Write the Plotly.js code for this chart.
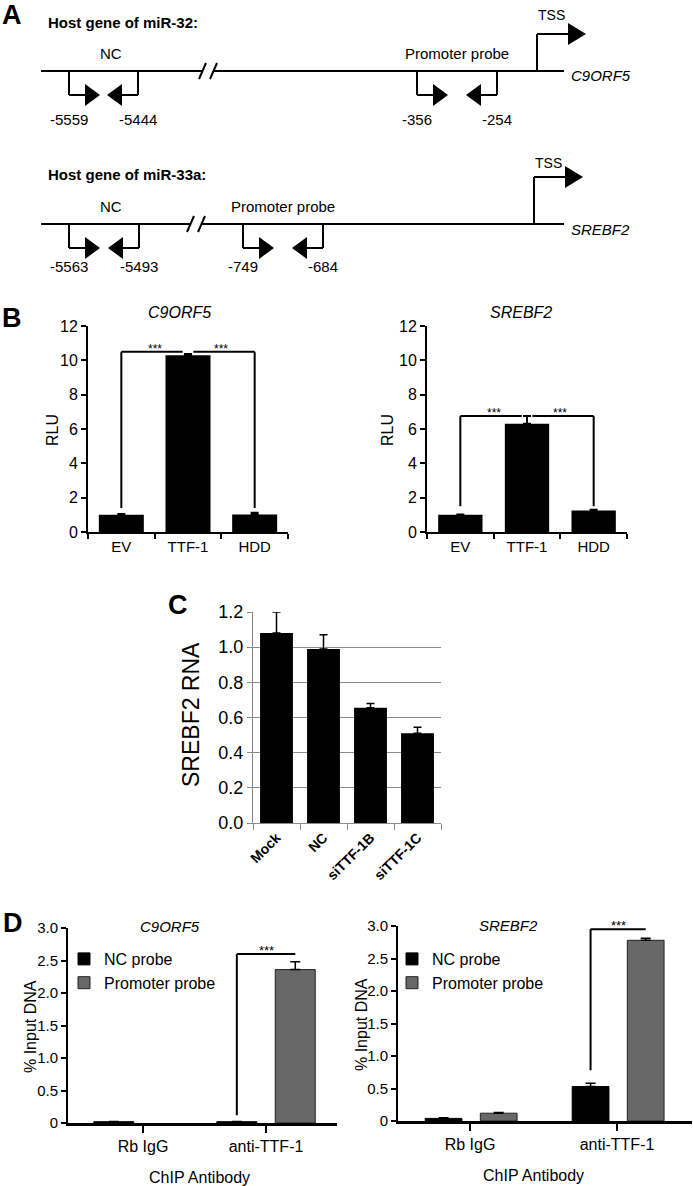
<!DOCTYPE html>
<html>
<head>
<meta charset="utf-8">
<script src="https://cdn.plot.ly/plotly-3.0.1.min.js"></script>
<style>html, body { margin: 0; padding: 0; background: #fff; }</style>
</head>
<body>
<div id="fig" style="width:693px;height:1186px"></div>
<script>
// A: promoter schematics
const hostLabels = ['Host gene of miR-32:', 'Host gene of miR-33a:'];
const geneNames = ['C9ORF5', 'SREBF2'];
const ncPrimerLabels = [['-5559', '-5444'], ['-5563', '-5493']];
const promPrimerLabels = [['-356', '-254'], ['-749', '-684']];

// B: luciferase reporter (RLU)
const rluGroups = ['EV', 'TTF-1', 'HDD'];
const rluC9orf5 = [1.0, 10.3, 1.02];
const rluC9orf5Err = [0.05, 0.07, 0.1];
const rluSrebf2 = [1.0, 6.3, 1.25];
const rluSrebf2Err = [0.02, 0.45, 0.05];
const rluBracketTop = [10.5, 6.75];
const rluBracketFoot = [1.4, 1.5];

// C: SREBF2 RNA after knock-down
const sirnaGroups = ['Mock', 'NC', 'siTTF-1B', 'siTTF-1C'];
const srebf2Rna = [1.08, 0.99, 0.655, 0.51];
const srebf2RnaErr = [0.12, 0.08, 0.025, 0.035];

// D: ChIP (% input DNA)
const chipGroups = ['Rb IgG', 'anti-TTF-1'];
const chipSeries = ['NC probe', 'Promoter probe'];
const chipC9orf5Nc = [0.02, 0.02];
const chipC9orf5NcErr = [0.005, 0.005];
const chipC9orf5Prom = [0.0, 2.36];
const chipC9orf5PromErr = [0, 0.12];
const chipSrebf2Nc = [0.04, 0.53];
const chipSrebf2NcErr = [0.01, 0.05];
const chipSrebf2Prom = [0.12, 2.78];
const chipSrebf2PromErr = [0.01, 0.03];
const chipBracketFoot = [0.12, 0.78];
const chipBracketTop = [2.6, 2.95];
const chipTicks = [0, 0.5, 1, 1.5, 2, 2.5, 3];
const chipTickText = ['0', '0.5', '1.0', '1.5', '2.0', '2.5', '3.0'];

const W = 693, H = 1186;
const FONT = 'Liberation Sans, Arial, sans-serif';
const GREY = '#686868';
const fx = (p) => p / W;
const fy = (p) => 1 - p / H;

const shapes = [];
const annotations = [];

function seg(x0, y0, x1, y1, w) {
    shapes.push({type: 'line', xref: 'paper', yref: 'paper',
        x0: fx(x0), y0: fy(y0), x1: fx(x1), y1: fy(y1),
        line: {color: '#000', width: w || 2}});
}
function tri(pts) {
    shapes.push({type: 'path', xref: 'paper', yref: 'paper',
        path: 'M' + pts.map(p => fx(p[0]) + ',' + fy(p[1])).join('L') + 'Z',
        fillcolor: '#000', line: {width: 0}});
}
function txt(x, y, text, size, opts) {
    annotations.push(Object.assign({xref: 'paper', yref: 'paper', x: fx(x), y: fy(y),
        text: text, showarrow: false, xanchor: 'center', yanchor: 'middle',
        font: {family: FONT, size: size, color: '#000'}}, opts || {}));
}
function dataLine(xa, ya, x0, y0, x1, y1) {
    shapes.push({type: 'line', xref: xa, yref: ya, x0: x0, y0: y0, x1: x1, y1: y1,
        line: {color: '#000', width: 2}});
}

// ---- panel A ----
const geneRows = [
    {base: 71, top: 23, tss: 537, tssY: 34, tssText: 15, brk: 205, nc: [69, 138], prom: [417, 497], ncX: 111, promX: 457, lab: 119},
    {base: 224, top: 175, tss: 534, tssY: 177, tssText: 163, brk: 193, nc: [69, 139], prom: [243, 323], ncX: 111, promX: 283, lab: 267},
];

function primer(x, base, dir) {
    const y = base + 24;
    seg(x, base, x, y);
    seg(x, y, x + dir * 17, y);
    tri([[x + dir * 16, y - 11], [x + dir * 16, y + 11], [x + dir * 31, y]]);
}

geneRows.forEach((row, i) => {
    const b = row.base;
    seg(41, b, row.brk - 3, b);
    seg(row.brk + 9, b, 564, b);
    seg(row.brk - 6, b + 8, row.brk + 1, b - 8, 2);
    seg(row.brk + 5, b + 8, row.brk + 12, b - 8, 2);
    // TSS arrow
    seg(row.tss, b, row.tss, row.tssY);
    seg(row.tss, row.tssY, row.tss + 33, row.tssY);
    tri([[row.tss + 31, row.tssY - 11], [row.tss + 31, row.tssY + 11], [row.tss + 49, row.tssY]]);
    txt(row.tss + 14, row.tssText, 'TSS', 14);
    // primers
    primer(row.nc[0], b, 1);
    primer(row.nc[1], b, -1);
    primer(row.prom[0], b, 1);
    primer(row.prom[1], b, -1);
    txt(row.ncX, b - 17, 'NC', 15);
    txt(row.promX, b - 17, 'Promoter probe', 15);
    txt(row.nc[0], row.lab, ncPrimerLabels[i][0], 15);
    txt(row.nc[1], row.lab, ncPrimerLabels[i][1], 15);
    txt(row.prom[0], row.lab, promPrimerLabels[i][0], 15);
    txt(row.prom[1], row.lab, promPrimerLabels[i][1], 15);
    txt(46, row.top, '<b>' + hostLabels[i] + '</b>', 15, {xanchor: 'left'});
    txt(569, b + 5, '<i>' + geneNames[i] + '</i>', 15, {xanchor: 'left'});
});

// panel letters
txt(12, 15, '<b>A</b>', 27);
txt(12, 318, '<b>B</b>', 27);
txt(178, 605, '<b>C</b>', 27);
txt(13, 923, '<b>D</b>', 27);

// ---- traces ----
// upward-only error bars
function errUp(arr, th, w) {
    return {type: 'data', array: arr, arrayminus: arr.map(() => 0), symmetric: false,
        color: '#000', thickness: th || 2, width: w || 4};
}

const traces = [];
traces.push({type: 'bar', x: rluGroups, y: rluC9orf5, xaxis: 'x', yaxis: 'y',
    width: 0.675, marker: {color: '#000'}, error_y: errUp(rluC9orf5Err), showlegend: false});
traces.push({type: 'bar', x: rluGroups, y: rluSrebf2, xaxis: 'x2', yaxis: 'y2',
    width: 0.665, marker: {color: '#000'}, error_y: errUp(rluSrebf2Err), showlegend: false});
traces.push({type: 'bar', x: sirnaGroups, y: srebf2Rna, xaxis: 'x3', yaxis: 'y3',
    width: 0.7, marker: {color: '#000'}, error_y: errUp(srebf2RnaErr, 1.5, 4), showlegend: false});

// ChIP bar geometry (fraction of category step)
const chipLayout = [
    {xa: 'x4', ya: 'y4', legend: 'legend', w: 0.325, offNc: -0.40, offProm: 0.075,
        nc: chipC9orf5Nc, ncErr: chipC9orf5NcErr, prom: chipC9orf5Prom, promErr: chipC9orf5PromErr},
    {xa: 'x5', ya: 'y5', legend: 'legend2', w: 0.25, offNc: -0.305, offProm: 0.07,
        nc: chipSrebf2Nc, ncErr: chipSrebf2NcErr, prom: chipSrebf2Prom, promErr: chipSrebf2PromErr},
];
// keep only points with a measurable value (a zero bar has no error cap in the figure)
const keep = (vals, arr) => arr.filter((_, k) => vals[k] > 0);

chipLayout.forEach((c, i) => {
    traces.push({type: 'bar', name: chipSeries[0], x: chipGroups, y: c.nc, xaxis: c.xa, yaxis: c.ya,
        width: c.w, offset: c.offNc, marker: {color: '#000', line: {color: '#000', width: 1}},
        error_y: errUp(c.ncErr, 1.5, 5), legend: c.legend, showlegend: true});
    traces.push({type: 'bar', name: chipSeries[1], x: keep(c.prom, chipGroups), y: keep(c.prom, c.prom),
        xaxis: c.xa, yaxis: c.ya, width: c.w, offset: c.offProm,
        marker: {color: GREY, line: {color: '#222', width: 1}},
        error_y: errUp(keep(c.prom, c.promErr), 1.5, 5), legend: c.legend, showlegend: true});
    // significance bracket: from NC bar to promoter bar in the anti-TTF-1 group
    const xNc = 1 + c.offNc + c.w / 2;
    const xProm = 1 + c.offProm + c.w / 2;
    dataLine(c.xa, c.ya, xNc, chipBracketFoot[i], xNc, chipBracketTop[i]);
    dataLine(c.xa, c.ya, xNc, chipBracketTop[i], xProm, chipBracketTop[i]);
    annotations.push({xref: c.xa, yref: c.ya, x: (xNc + xProm) / 2, y: chipBracketTop[i],
        text: '***', showarrow: false, yanchor: 'bottom', yshift: -6,
        font: {family: FONT, size: 13, color: '#000'}});
});

// RLU brackets
[['x', 'y'], ['x2', 'y2']].forEach((ax, i) => {
    const top = rluBracketTop[i], foot = rluBracketFoot[i];
    dataLine(ax[0], ax[1], 0, foot, 0, top);
    dataLine(ax[0], ax[1], 0, top, 0.92, top);
    dataLine(ax[0], ax[1], 1.08, top, 2, top);
    dataLine(ax[0], ax[1], 2, foot, 2, top);
    [0.5, 1.5].forEach(xm => annotations.push({xref: ax[0], yref: ax[1], x: xm, y: top,
        text: '***', showarrow: false, yanchor: 'bottom', yshift: -6,
        font: {family: FONT, size: 12, color: '#000'}}));
});

// chart titles / axis labels
txt(180, 313, '<i>C9ORF5</i>', 16);
txt(521, 313, '<i>SREBF2</i>', 16);
txt(52, 430, 'RLU', 16, {textangle: -90});
txt(387, 430, 'RLU', 16, {textangle: -90});
txt(191, 714, 'SREBF2 RNA', 23, {textangle: -90});
txt(170, 926, '<i>C9ORF5</i>', 15);
txt(508, 925, '<i>SREBF2</i>', 15);
txt(30, 1027, '% Input DNA', 16, {textangle: -90});
txt(361, 1025, '% Input DNA', 16, {textangle: -90});
txt(199, 1177, 'ChIP Antibody', 16);
txt(533, 1175, 'ChIP Antibody', 16);

// ---- axes ----
function xAx(l, r, anchor, extra) {
    return Object.assign({domain: [fx(l), fx(r)], anchor: anchor, type: 'category',
        showline: true, linecolor: '#000', linewidth: 2, ticks: 'outside', tickcolor: '#000',
        tickwidth: 2, ticklen: 5, showgrid: false, zeroline: false, fixedrange: true,
        tickfont: {family: FONT, size: 15, color: '#000'}}, extra);
}
function yAx(t, b, anchor, extra) {
    return Object.assign({domain: [fy(b), fy(t)], anchor: anchor,
        showline: true, linecolor: '#000', linewidth: 2, ticks: 'outside', tickcolor: '#000',
        tickwidth: 2, ticklen: 5, showgrid: false, zeroline: false, fixedrange: true,
        tickfont: {family: FONT, size: 16, color: '#000'}}, extra);
}

const layout = {
    width: W, height: H,
    margin: {l: 0, r: 0, t: 0, b: 0},
    paper_bgcolor: '#fff', plot_bgcolor: 'rgba(0,0,0,0)',
    font: {family: FONT, color: '#000'},
    barmode: 'overlay',
    xaxis: xAx(88, 288, 'y', {range: [-0.5, 2.5], tickson: 'boundaries'}),
    yaxis: yAx(326, 532, 'x', {range: [0, 12], dtick: 2}),
    xaxis2: xAx(427, 627, 'y2', {range: [-0.5, 2.5], tickson: 'boundaries'}),
    yaxis2: yAx(326, 532, 'x2', {range: [0, 12], dtick: 2}),
    xaxis3: xAx(253, 441, 'y3', {range: [-0.5, 3.5], tickson: 'boundaries', linecolor: '#8a8a8a',
        linewidth: 1, tickcolor: '#8a8a8a', tickwidth: 1, ticklen: 6, tickangle: -45,
        tickfont: {family: FONT, size: 14, color: '#000', weight: 'bold'}}),
    yaxis3: yAx(612, 823, 'x3', {range: [0, 1.2], dtick: 0.2, tickformat: '.1f', linecolor: '#8a8a8a',
        linewidth: 1, tickcolor: '#8a8a8a', tickwidth: 1, showgrid: true, gridcolor: '#8a8a8a', gridwidth: 1,
        tickfont: {family: FONT, size: 18, color: '#000'}}),
    xaxis4: xAx(68, 337, 'y4', {range: [-0.61, 1.577], linewidth: 2.5, ticklen: 7,
        categoryorder: 'array', categoryarray: chipGroups,
        tickfont: {family: FONT, size: 16, color: '#000'}}),
    yaxis4: yAx(928, 1123, 'x4', {range: [0, 3], tickvals: chipTicks, ticktext: chipTickText,
        tickfont: {family: FONT, size: 15, color: '#000'}}),
    xaxis5: xAx(398, 692, 'y5', {range: [-0.49, 1.51], linewidth: 2.5, ticklen: 7,
        categoryorder: 'array', categoryarray: chipGroups,
        tickfont: {family: FONT, size: 16, color: '#000'}}),
    yaxis5: yAx(926, 1121, 'x5', {range: [0, 3], tickvals: chipTicks, ticktext: chipTickText,
        tickfont: {family: FONT, size: 15, color: '#000'}}),
    legend: {x: fx(64), y: fy(942), xanchor: 'left', yanchor: 'top', bgcolor: 'rgba(0,0,0,0)',
        font: {family: FONT, size: 16, color: '#000'}},
    legend2: {x: fx(392), y: fy(942), xanchor: 'left', yanchor: 'top', bgcolor: 'rgba(0,0,0,0)',
        font: {family: FONT, size: 16, color: '#000'}},
    shapes: shapes,
    annotations: annotations,
};

Plotly.newPlot('fig', traces, layout, {staticPlot: true, displayModeBar: false});
</script>
</body>
</html>
